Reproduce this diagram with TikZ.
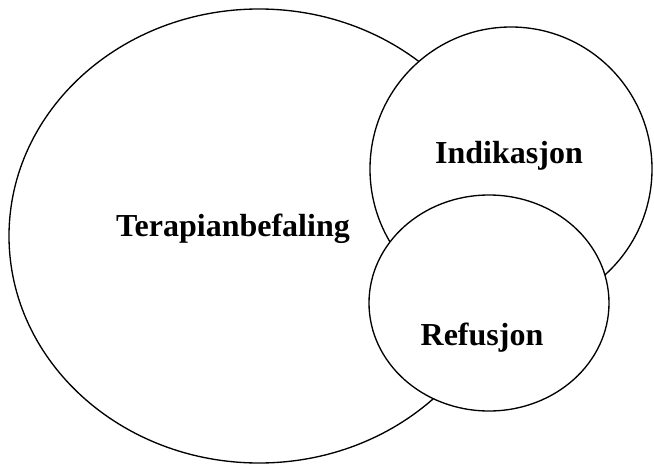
\documentclass[tikz,border=0pt]{standalone}
\usepackage{fontspec}
\setmainfont{Liberation Serif}
\usetikzlibrary{shapes.geometric}

\begin{document}
\begin{tikzpicture}[
    x=0.75pt, y=-0.75pt,
    set/.style={draw, ellipse, fill=white, line width=1pt, inner sep=0pt},
    setlabel/.style={font=\fontsize{24}{29}\selectfont\bfseries, anchor=base}
  ]
    \useasboundingbox (0,0) rectangle (654,464);
    % the three sets, later ones drawn on top
    \node[set, minimum width=375pt, minimum height=340.5pt] (terapi) at (259,236) {};
    \node[set, minimum width=211.5pt, minimum height=213pt] (indik) at (511,169) {};
    \node[set, minimum width=180pt, minimum height=162pt] (refus) at (489,303) {};
    % labels
    \node[setlabel] (terapilabel) at (233,236) {Terapianbefaling};
    \node[setlabel] (indiklabel) at (509,163) {Indikasjon};
    \node[setlabel] (refuslabel) at (482,345) {Refusjon};
  \end{tikzpicture}
\end{document}
